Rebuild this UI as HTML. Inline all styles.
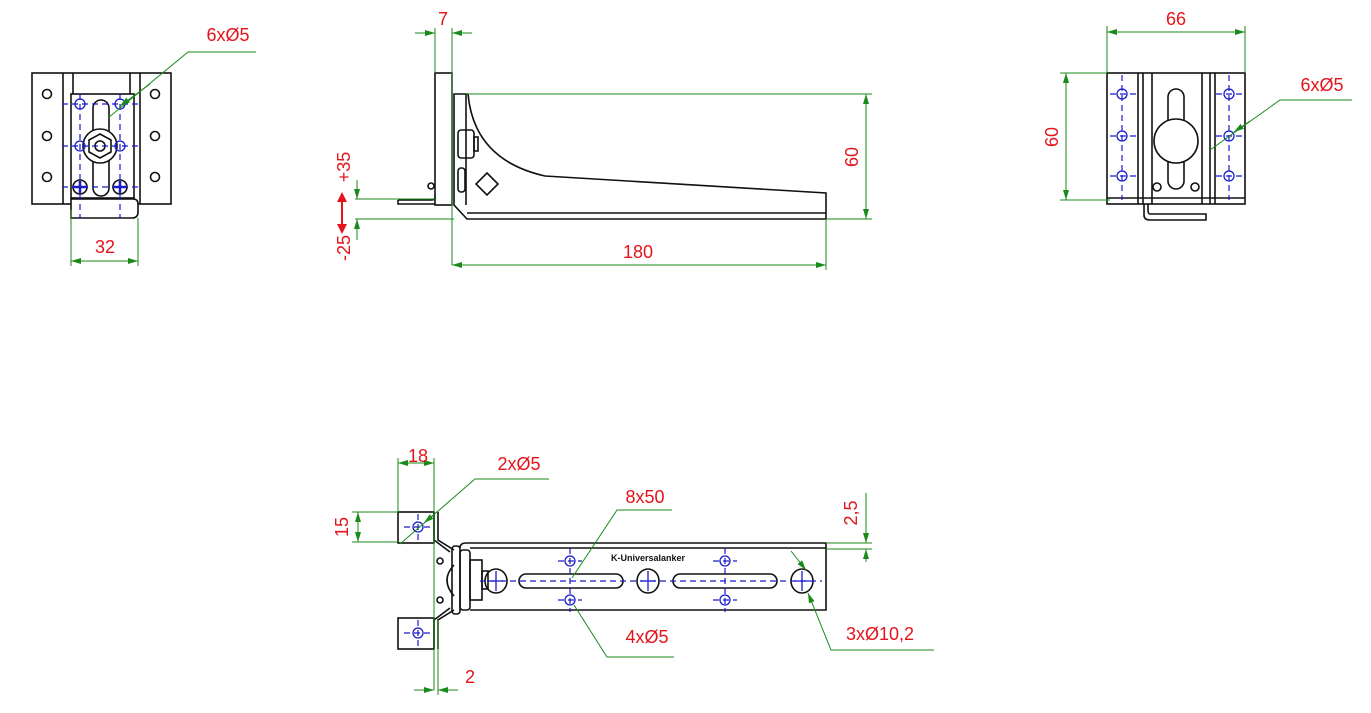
<!DOCTYPE html>
<html><head><meta charset="utf-8"><style>html,body{margin:0;padding:0;background:#fff}svg{display:block}text{font-family:"Liberation Sans",sans-serif;fill:#e4141b;font-size:18px}</style></head><body>
<svg width="1371" height="713" viewBox="0 0 1371 713" xmlns="http://www.w3.org/2000/svg">
<defs>
<marker id="a" viewBox="0 0 10 6" refX="10" refY="3" markerWidth="10" markerHeight="6" orient="auto-start-reverse" markerUnits="userSpaceOnUse"><path d="M0,0L10,3L0,6z" fill="#1a8a1a"/></marker>
</defs>
<g fill="none" stroke="#111" stroke-width="1.6">
<rect x="32" y="73" width="139" height="131"/>
<line x1="63" y1="73" x2="63" y2="204"/><line x1="73" y1="73" x2="73" y2="94"/>
<line x1="130" y1="73" x2="130" y2="94"/><line x1="140" y1="73" x2="140" y2="204"/>
<rect x="71" y="94" width="63" height="104" fill="#fff"/>
<circle cx="47" cy="94" r="4.5"/><circle cx="47" cy="136" r="4.5"/><circle cx="47" cy="177" r="4.5"/>
<circle cx="155" cy="94" r="4.5"/><circle cx="155" cy="136" r="4.5"/><circle cx="155" cy="177" r="4.5"/>
<rect x="93" y="100" width="16" height="96" rx="8"/>
<circle cx="100" cy="146" r="17" fill="#fff"/><polygon points="100,134 111,140 111,152 100,158 89,152 89,140"/><circle cx="100" cy="146" r="5"/>
<circle cx="80" cy="187" r="7"/><circle cx="120" cy="187" r="7"/>
<path d="M71,199 H133 Q138,199 138,204 V212 Q138,218 132,218 H71 Z" fill="#fff"/>
<rect x="435" y="73" width="17" height="132"/>
<path d="M398,200 H432 Q435,200 435,197 M398,200 V204 H435"/>
<circle cx="431" cy="186" r="3"/>
<path d="M454,94 H468 Q474,160 545,176 L826,193 V219 H467 L454,205 Z"/>
<line x1="466" y1="94" x2="466" y2="205"/>
<line x1="467" y1="213" x2="826" y2="213"/>
<rect x="458" y="130" width="16" height="28" rx="3"/><rect x="474" y="137" width="4" height="14"/>
<rect x="458" y="168" width="7" height="24" rx="3"/>
<polygon points="487,173 498,184 487,195 476,184"/>
<rect x="1107" y="73" width="138" height="131"/>
<line x1="1138" y1="73" x2="1138" y2="204"/><line x1="1143" y1="73" x2="1143" y2="204"/>
<line x1="1152" y1="73" x2="1152" y2="204"/><line x1="1202" y1="73" x2="1202" y2="204"/>
<line x1="1210" y1="73" x2="1210" y2="204"/><line x1="1215" y1="73" x2="1215" y2="204"/>
<line x1="1107" y1="198" x2="1245" y2="198"/>
<rect x="1168" y="89" width="16" height="100" rx="8"/>
<circle cx="1176" cy="141" r="22" fill="#fff"/>
<circle cx="1157" cy="187" r="4"/><circle cx="1195" cy="187" r="4"/>
<path d="M1144,204 V215 Q1144,220 1150,220 H1206 V214 H1150 Q1148,214 1148,210 V204"/>
<rect x="398" y="512" width="36" height="31"/><rect x="398" y="618" width="36" height="31"/>
<path d="M434,512 V540 L450,552 M438,512 V540 L454,550 M434,649 V620 L450,608 M438,649 V620 L454,610"/>
<path d="M454,565 Q440,580 454,596"/>
<rect x="452" y="546" width="8" height="68" rx="3"/><rect x="460" y="550" width="10" height="60" rx="3"/>
<rect x="470" y="560" width="12" height="40"/><rect x="482" y="571" width="6" height="18"/>
<circle cx="440" cy="561" r="3"/><circle cx="440" cy="600" r="3"/>
<path d="M460,548 Q460,543 466,543 H826 V610 H470"/>
<line x1="470" y1="548" x2="826" y2="548"/>
<ellipse cx="496" cy="581" rx="11" ry="12"/><ellipse cx="648" cy="581" rx="11" ry="12"/><ellipse cx="802" cy="581" rx="11" ry="12"/>
<rect x="519" y="574" width="104" height="14" rx="7"/><rect x="673" y="574" width="104" height="14" rx="7"/>
</g>
<g fill="none" stroke="#1a1acc" stroke-width="1.2" stroke-dasharray="6,4">
<line x1="62" y1="104" x2="138" y2="104"/><line x1="62" y1="146" x2="138" y2="146"/><line x1="62" y1="187" x2="138" y2="187"/>
<line x1="80" y1="94" x2="80" y2="218"/><line x1="120" y1="94" x2="120" y2="218"/>
<line x1="1122" y1="75" x2="1122" y2="200"/><line x1="1229" y1="75" x2="1229" y2="200"/>
<line x1="1110" y1="94" x2="1136" y2="94"/><line x1="1110" y1="136" x2="1136" y2="136"/><line x1="1110" y1="176" x2="1136" y2="176"/>
<line x1="1216" y1="94" x2="1243" y2="94"/><line x1="1216" y1="136" x2="1243" y2="136"/><line x1="1216" y1="176" x2="1243" y2="176"/>
<line x1="480" y1="581" x2="822" y2="581"/>
<line x1="570" y1="548" x2="570" y2="612"/><line x1="725" y1="548" x2="725" y2="612"/>
<line x1="404" y1="527" x2="432" y2="527"/><line x1="418" y1="514" x2="418" y2="542"/>
<line x1="404" y1="633" x2="432" y2="633"/><line x1="418" y1="620" x2="418" y2="648"/>
<line x1="558" y1="561" x2="582" y2="561"/><line x1="558" y1="600" x2="582" y2="600"/>
<line x1="713" y1="561" x2="737" y2="561"/><line x1="713" y1="600" x2="737" y2="600"/>
</g>
<g fill="none" stroke="#1a1acc" stroke-width="1.3">
<circle cx="80" cy="104" r="5"/><circle cx="120" cy="104" r="5"/><circle cx="80" cy="146" r="5"/><circle cx="120" cy="146" r="5"/>
<path d="M74,187h12M80,181v12M114,187h12M120,181v12" stroke-width="2.5"/>
<circle cx="1122" cy="94" r="5"/><circle cx="1122" cy="136" r="5"/><circle cx="1122" cy="176" r="5"/>
<circle cx="1229" cy="94" r="5"/><circle cx="1229" cy="136" r="5"/><circle cx="1229" cy="176" r="5"/>
<circle cx="418" cy="527" r="5"/><circle cx="418" cy="633" r="5"/>
<circle cx="570" cy="561" r="5"/><circle cx="570" cy="600" r="5"/><circle cx="725" cy="561" r="5"/><circle cx="725" cy="600" r="5"/>
<path d="M496,571v20M488,581h16M648,571v20M640,581h16M802,571v20M794,581h16"/>
</g>
<text x="648" y="561" text-anchor="middle" style="font-size:9px;font-weight:bold;fill:#111">K-Universalanker</text>
<g fill="none" stroke="#1a8a1a" stroke-width="1">
<line x1="71" y1="210" x2="71" y2="266"/><line x1="138" y1="218" x2="138" y2="266"/>
<line x1="71" y1="261" x2="138" y2="261" marker-start="url(#a)" marker-end="url(#a)"/>
<path d="M108,118 L188,52 H256"/><line x1="150" y1="84" x2="120" y2="106" marker-end="url(#a)"/>
<line x1="435" y1="28" x2="435" y2="73"/><line x1="452" y1="28" x2="452" y2="265"/>
<line x1="415" y1="33" x2="435" y2="33" marker-end="url(#a)"/><line x1="472" y1="33" x2="452" y2="33" marker-end="url(#a)"/>
<line x1="466" y1="94" x2="872" y2="94"/><line x1="826" y1="219" x2="872" y2="219"/>
<line x1="866" y1="94" x2="866" y2="219" marker-start="url(#a)" marker-end="url(#a)"/>
<line x1="826" y1="219" x2="826" y2="270"/>
<line x1="452" y1="265" x2="826" y2="265" marker-start="url(#a)" marker-end="url(#a)"/>
<line x1="355" y1="199" x2="435" y2="199"/><line x1="355" y1="219" x2="454" y2="219"/>
<line x1="357" y1="180" x2="357" y2="199" marker-end="url(#a)"/><line x1="357" y1="240" x2="357" y2="219" marker-end="url(#a)"/>
<line x1="1107" y1="26" x2="1107" y2="73"/><line x1="1245" y1="26" x2="1245" y2="73"/>
<line x1="1107" y1="32" x2="1245" y2="32" marker-start="url(#a)" marker-end="url(#a)"/>
<line x1="1060" y1="73" x2="1107" y2="73"/><line x1="1060" y1="200" x2="1110" y2="200"/>
<line x1="1066" y1="73" x2="1066" y2="200" marker-start="url(#a)" marker-end="url(#a)"/>
<path d="M1210,150 L1280,100 H1352"/><line x1="1250" y1="121" x2="1234" y2="132" marker-end="url(#a)"/>
<line x1="398" y1="458" x2="398" y2="512"/><line x1="434" y1="458" x2="434" y2="690"/>
<line x1="398" y1="463" x2="434" y2="463" marker-start="url(#a)" marker-end="url(#a)"/>
<line x1="352" y1="512" x2="398" y2="512"/><line x1="352" y1="542" x2="398" y2="542"/>
<line x1="358" y1="512" x2="358" y2="542" marker-start="url(#a)" marker-end="url(#a)"/>
<line x1="438" y1="620" x2="438" y2="695"/>
<line x1="414" y1="690" x2="434" y2="690" marker-end="url(#a)"/><line x1="458" y1="690" x2="438" y2="690" marker-end="url(#a)"/>
<path d="M400,544 L475,479 H549"/><line x1="438" y1="511" x2="424" y2="523" marker-end="url(#a)"/>
<line x1="826" y1="543" x2="872" y2="543"/><line x1="826" y1="549" x2="872" y2="549"/>
<line x1="866" y1="493" x2="866" y2="543" marker-end="url(#a)"/><line x1="866" y1="562" x2="866" y2="549" marker-end="url(#a)"/>
<path d="M572,578 L617,510 H672"/>
<path d="M574,605 L607,657 H674"/>
<path d="M791,551 L806,570" marker-end="url(#a)"/>
<path d="M934,650 H831 L808,593" marker-end="url(#a)"/>
</g>
<text x="228" y="41" text-anchor="middle">6xØ5</text>
<text x="105" y="253" text-anchor="middle">32</text>
<text x="443" y="25" text-anchor="middle">7</text>
<text x="858" y="157" text-anchor="middle" transform="rotate(-90 858 157)">60</text>
<text x="638" y="258" text-anchor="middle">180</text>
<text x="350" y="167" text-anchor="middle" transform="rotate(-90 350 167)">+35</text>
<text x="350" y="248" text-anchor="middle" transform="rotate(-90 350 248)">-25</text>
<path d="M342,194 V232" stroke="#e4141b" stroke-width="2"/>
<path d="M337,202 L342,192 L347,202Z M337,224 L342,234 L347,224Z" fill="#e4141b"/>
<text x="1176" y="25" text-anchor="middle">66</text>
<text x="1058" y="137" text-anchor="middle" transform="rotate(-90 1058 137)">60</text>
<text x="1322" y="91" text-anchor="middle">6xØ5</text>
<text x="418" y="462" text-anchor="middle">18</text>
<text x="519" y="470" text-anchor="middle">2xØ5</text>
<text x="348" y="527" text-anchor="middle" transform="rotate(-90 348 527)">15</text>
<text x="470" y="683" text-anchor="middle">2</text>
<text x="645" y="503" text-anchor="middle">8x50</text>
<text x="857" y="513" text-anchor="middle" transform="rotate(-90 857 513)">2,5</text>
<text x="647" y="643" text-anchor="middle">4xØ5</text>
<text x="880" y="640" text-anchor="middle">3xØ10,2</text>
</svg>
</body></html>
